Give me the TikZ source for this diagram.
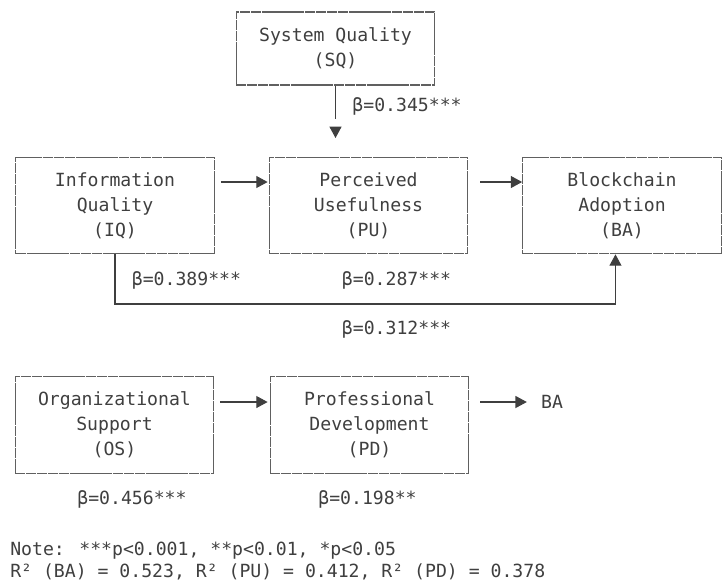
\documentclass[tikz,border=0pt]{standalone}
\usepackage{fontspec}
\newfontfamily\codefont{DejaVu Sans Mono}
\usetikzlibrary{arrows.meta}
\definecolor{inkgray}{HTML}{3F3F3F}
\definecolor{rulegray}{HTML}{606060}
\tikzset{
  codetext/.style={font=\codefont\fontsize{13.6}{18.9}\selectfont, text=inkgray, inner sep=0pt},
  varbox/.style={codetext, draw=rulegray, line width=0.8pt, dash pattern=on 7.7pt off 0.45pt,
    align=center, minimum width=149pt, minimum height=72.5pt,
    execute at begin node=\rule{0pt}{14.8pt}},
  link/.style={draw=inkgray, line width=0.8pt, -{Triangle[length=8.5pt,width=9pt]}},
}
\begin{document}
\begin{tikzpicture}[x=0.75pt, y=-0.75pt]
  \useasboundingbox (0,0) rectangle (723,583);

  % constructs
  \node[varbox, minimum height=54.75pt] (SQ) at (335.5,48.5) {System Quality\\(SQ)};
  \node[varbox] (IQ) at (115,205.5) {Information\\Quality\\(IQ)};
  \node[varbox] (PU) at (368.5,205.5) {Perceived\\Usefulness\\(PU)};
  \node[varbox] (BA) at (622,205.5) {Blockchain\\Adoption\\(BA)};
  \node[varbox] (OS) at (114.5,425) {Organizational\\Support\\(OS)};
  \node[varbox] (PD) at (369.5,425) {Professional\\Development\\(PD)};
  \node[codetext] (BAref) at (552,402) {BA};

  \coordinate (sqtip) at (0,138);
  \coordinate (lowbar) at (0,304);

  % paths
  \draw[link, dash pattern=on 24.75pt off 20pt] (SQ.south) -- (SQ.south |- sqtip);
  \draw[link] ([shift={(6,-23.5)}]IQ.east) -- ([shift={(-1,-23.5)}]PU.west);
  \draw[link] ([shift={(12,-23.5)}]PU.east) -- ([shift={(0,-23.5)}]BA.west);
  \draw[link] (IQ.south) -- (IQ.south |- lowbar) -| ([xshift=-4.9pt]BA.south);
  \draw[link] ([shift={(6,-23)}]OS.east) -- ([shift={(-2,-23)}]PD.west);
  \draw[link, shorten >=10.5pt] ([shift={(11,-23)}]PD.east) -- (BAref.west);

  % coefficients
  \foreach \lbl/\x/\y/\txt in {b345/407/111.5/{β=0.345***}, b389/186.5/285.5/{β=0.389***},
      b287/396.5/285.5/{β=0.287***}, b312/396.5/334.5/{β=0.312***},
      b456/132/504.5/{β=0.456***}, b198/367.5/504.5/{β=0.198**}} {
    \node[codetext, anchor=base] (\lbl) at (\x,\y) {\txt};
  }

  \node[codetext, anchor=base west] (note) at (10,555.5) {Note: ***p<0.001, **p<0.01, *p<0.05};
  \node[codetext, anchor=base west] (rsq) at (10,577.5) {R² (BA) = 0.523, R² (PU) = 0.412, R² (PD) = 0.378};
\end{tikzpicture}
\end{document}
